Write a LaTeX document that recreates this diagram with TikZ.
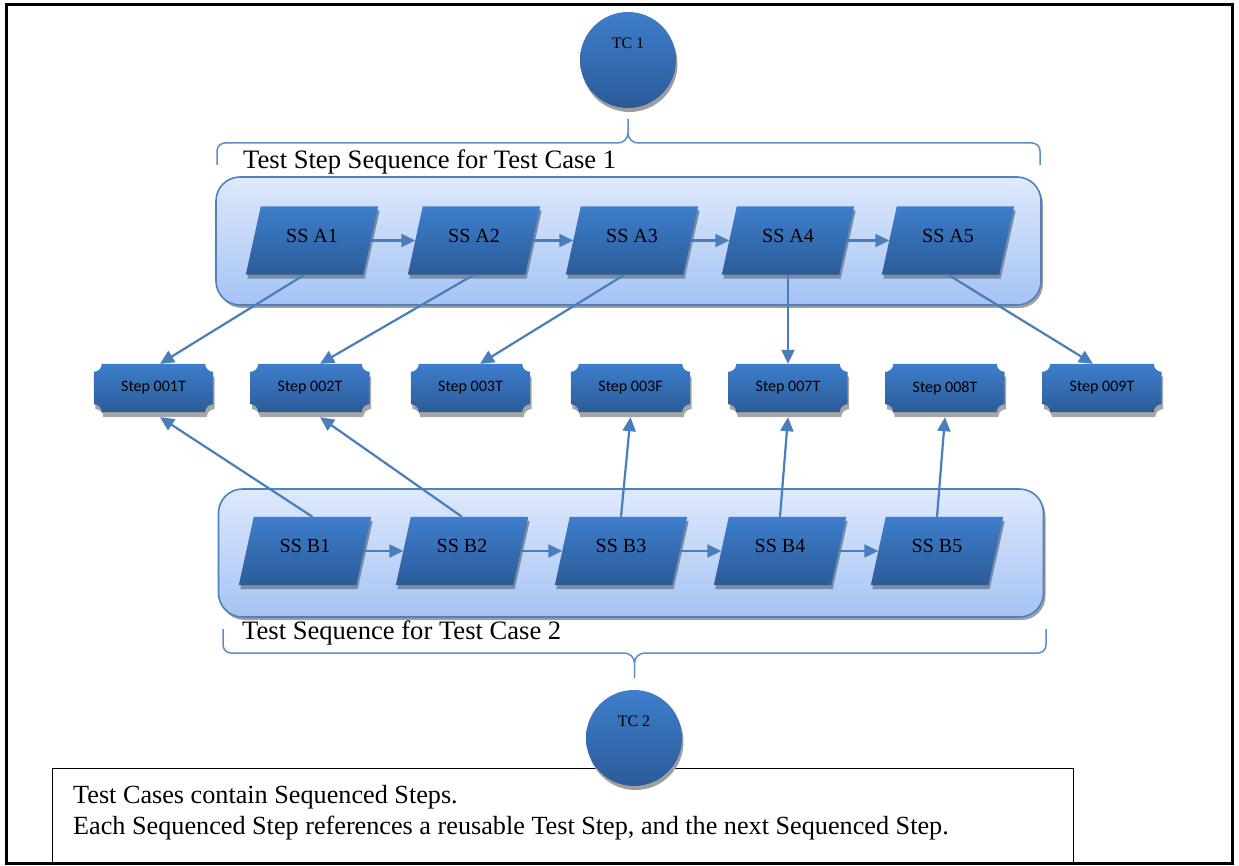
\documentclass[tikz,border=0pt]{standalone}
\usepackage{fontspec}
\setmainfont{Liberation Serif}
\newfontfamily\stepfont{Carlito}
\usetikzlibrary{shadows,arrows.meta,calc,backgrounds}

\definecolor{ssTop}{HTML}{3E7ECC}
\definecolor{ssBottom}{HTML}{2B5B98}
\definecolor{ssShade}{HTML}{7A8BA6}
\definecolor{grpTop}{HTML}{DEE9FB}
\definecolor{grpBottom}{HTML}{A5C3F5}
\definecolor{grpBorder}{HTML}{4F81BD}
\definecolor{linkBlue}{HTML}{4A7EBB}
\definecolor{braceBlue}{HTML}{5B8CCB}

% outline of a step plaque (concave corners) round a node
\newcommand\plaquepath[2]{($(#1.north west)+(#2,0)$) -- ($(#1.north east)+(-#2,0)$)
  arc[start angle=180,end angle=270,radius=#2] -- ($(#1.south east)+(0,#2)$)
  arc[start angle=90,end angle=180,radius=#2] -- ($(#1.south west)+(#2,0)$)
  arc[start angle=0,end angle=90,radius=#2] -- ($(#1.north west)+(0,-#2)$)
  arc[start angle=270,end angle=360,radius=#2] -- cycle}
% outline of a sequenced step (parallelogram) round a node
\newcommand\slantpath[2]{($(#1.south west)+(-#2,0)$) -- ($(#1.south east)+(-#2,0)$)
  -- ($(#1.north east)+(#2,0)$) -- ($(#1.north west)+(#2,0)$) -- cycle}

\begin{document}
\begin{tikzpicture}[x=1pt,y=1pt,
    ssbox/.style={minimum width=117pt,minimum height=68pt,inner sep=0pt,text depth=10pt,
      font=\fontsize{20}{24}\selectfont},
    stepbox/.style={minimum width=119pt,minimum height=48pt,inner sep=0pt,
      font=\stepfont\fontsize{16}{19}\selectfont},
    groupbox/.style={rounded corners=24pt,draw=grpBorder,line width=1.6pt,
      top color=grpTop,bottom color=grpBottom,minimum width=825pt,minimum height=128pt,
      drop shadow={shadow xshift=2pt,shadow yshift=-3pt,fill=black!38,opacity=1}},
    tcball/.style={circle,minimum size=96pt,top color=ssTop,bottom color=ssBottom,
      drop shadow={shadow xshift=1.5pt,shadow yshift=-4pt,fill=black!38,opacity=1}},
    link/.style={linkBlue,line width=2.2pt,-{Triangle[length=14pt,width=13pt]}},
    brace/.style={braceBlue,line width=1.5pt},
    caption/.style={anchor=west,inner sep=0pt,font=\fontsize{26.6}{31}\selectfont}]

    \useasboundingbox (0,0) rectangle (1239,-866);
    \draw[line width=3pt] (6,-5) rectangle (1232,-863);

    % test case 1
    \node[tcball,label={[yshift=17pt,font=\fontsize{16}{19}\selectfont]center:TC 1}] (tc1) at (628,-60) {};
    \draw[brace] (217,-165) -- (217,-151) to[out=90,in=180] (225,-143) -- (618,-143)
        to[out=0,in=-90] (628,-133) -- (628,-119) -- (628,-133)
        to[out=-90,in=180] (638,-143) -- (1032,-143) to[out=0,in=90] (1040,-151) -- (1040,-165);
    \node[caption] (titleA) at (243,-162) {Test Step Sequence for Test Case 1};

    \node[ssbox] (a1) at (312,-240.5) {SS A1};
    \node[ssbox] (a2) at (474,-240.5) {SS A2};
    \node[ssbox] (a3) at (632,-240.5) {SS A3};
    \node[ssbox] (a4) at (788,-240.5) {SS A4};
    \node[ssbox] (a5) at (948,-240.5) {SS A5};

    % reusable test steps
    \node[stepbox] (step1T) at (153.5,-388) {Step 001T};
    \node[stepbox] (step2T) at (310,-388) {Step 002T};
    \node[stepbox] (step3T) at (470.5,-388) {Step 003T};
    \node[stepbox] (step3F) at (630.5,-388) {Step 003F};
    \node[stepbox] (step7T) at (788,-388) {Step 007T};
    \node[stepbox] (step8T) at (945,-388) {Step 008T};
    \node[stepbox] (step9T) at (1102,-388) {Step 009T};

    % test case 2
    \node[ssbox] (b1) at (305,-551) {SS B1};
    \node[ssbox] (b2) at (462,-551) {SS B2};
    \node[ssbox] (b3) at (621,-551) {SS B3};
    \node[ssbox] (b4) at (780,-551) {SS B4};
    \node[ssbox] (b5) at (937,-551) {SS B5};
    \node[caption] (titleB) at (242,-633) {Test Sequence for Test Case 2};
    \draw[brace] (223,-629) -- (223,-645) to[out=-90,in=180] (231,-653) -- (624,-653)
        to[out=0,in=90] (634.5,-663) -- (634.5,-678) -- (634.5,-663)
        to[out=90,in=180] (645,-653) -- (1038,-653) to[out=0,in=-90] (1046,-645) -- (1046,-629);

    \begin{scope}[on background layer]
        \node[groupbox] (groupA) at (628.5,-241) {};
        \node[groupbox] (groupB) at (631,-553) {};
        \foreach \s in {a1,a2,a3,a4,a5,b1,b2,b3,b4,b5}{
            \fill[ssShade,transform canvas={xshift=1.5pt,yshift=-4pt}] \slantpath{\s}{7.5pt};
            \shade[top color=ssTop,bottom color=ssBottom] \slantpath{\s}{7.5pt};
        }
        \foreach \s in {step1T,step2T,step3T,step3F,step7T,step8T,step9T}{
            \fill[black!35,transform canvas={xshift=1.5pt,yshift=-5pt}] \plaquepath{\s}{8pt};
            \shade[top color=ssTop,bottom color=ssBottom] \plaquepath{\s}{8pt};
        }
    \end{scope}

    \node[draw,line width=1.2pt,minimum width=1021pt,minimum height=95pt,anchor=north west] (note) at (52,-768) {};
    \node[anchor=west,align=left,inner sep=0pt,font=\fontsize{26.2}{31}\selectfont] (notetext) at (73,-812.5)
        {Test Cases contain Sequenced Steps.\\Each Sequenced Step references a reusable Test Step, and the next Sequenced Step.};
    \node[tcball,label={[yshift=17pt,font=\fontsize{16}{19}\selectfont]center:TC 2}] (tc2) at (634,-738) {};

    % sequence links
    \draw[link] (a1.east) -- (a2.west);
    \draw[link] (a2.east) -- (a3.west);
    \draw[link] (a3.east) -- (a4.west);
    \draw[link] (a4.east) -- (a5.west);
    \draw[link] (b1.east) -- (b2.west);
    \draw[link] (b2.east) -- (b3.west);
    \draw[link] (b3.east) -- (b4.west);
    \draw[link] (b4.east) -- (b5.west);

    % step references
    \draw[link] ([xshift=-7.5pt]a1.south) -- ([xshift=6.5pt]step1T.north);
    \draw[link] (a2.south) -- ([xshift=10pt]step2T.north);
    \draw[link] ([xshift=-7.5pt]a3.south) -- ([xshift=9.5pt]step3T.north);
    \draw[link] (a4.south) -- (step7T.north);
    \draw[link] (a5.south) -- ([xshift=-9pt]step9T.north);
    \draw[link] ([xshift=7.5pt]b1.north) -- ([xshift=6.5pt,yshift=-5pt]step1T.south);
    \draw[link] (b2.north) -- ([xshift=10pt,yshift=-5pt]step2T.south);
    \draw[link] (b3.north) -- ([yshift=-5pt]step3F.south);
    \draw[link] (b4.north) -- ([yshift=-5pt]step7T.south);
    \draw[link] (b5.north) -- ([yshift=-5pt]step8T.south);
\end{tikzpicture}
\end{document}
